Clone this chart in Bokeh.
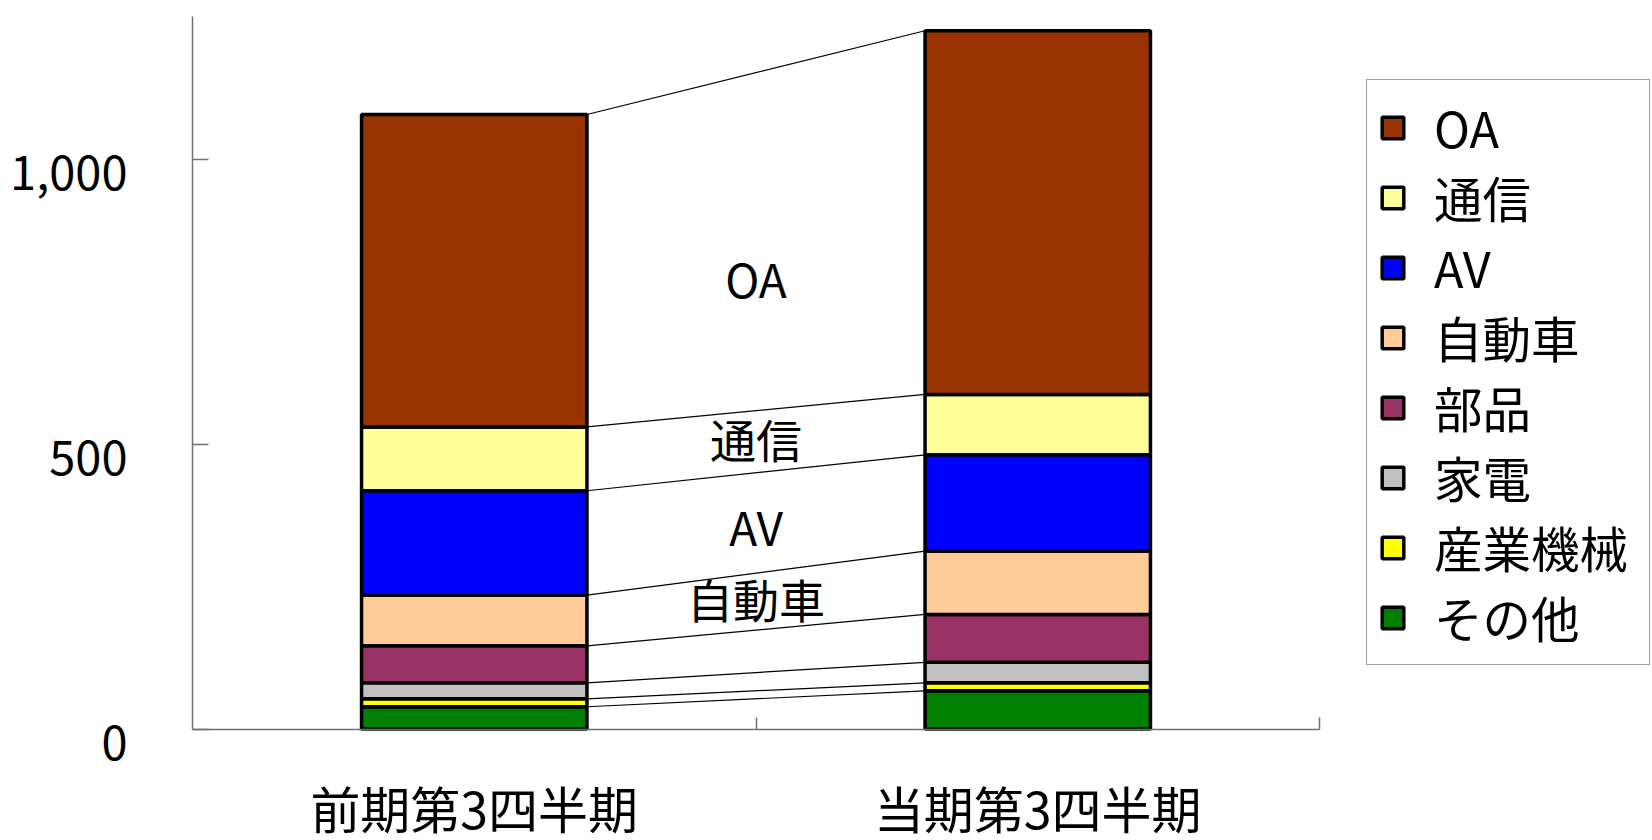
from bokeh.plotting import figure
from bokeh.models import (Range1d, FixedTicker, NumeralTickFormatter, Legend,
                          LegendItem, ColumnDataSource, LinearAxis)
from bokeh.embed import file_html
from bokeh.resources import INLINE
from bokeh.core.properties import value

# ---- data (bottom -> top of stack) ----
periods = ["前期第3四半期", "当期第3四半期"]
segments = ["その他", "産業機械", "家電", "部品", "自動車", "AV", "通信", "OA"]
other = [39, 67]
industrial = [14, 14]
appliances = [28, 36]
parts = [65, 84]
automotive = [89, 111]
av = [183, 169]
telecom = [112, 106]
oa = [548, 638]
colors = ["#008000", "#FFFF00", "#C0C0C0", "#993366", "#FFCC99", "#0000FF", "#FFFF99", "#993300"]
y_ticks = [0, 500, 1000]
Y_MAX = 1250

# labels between the bars (text + vertical placement)
mid_labels = ["OA", "通信", "AV", "自動車"]
mid_label_y = [792, 510, 357, 229]

# ---- layout constants (pixels) ----
W, H = 1652, 840
FRAME_LEFT = 192
FRAME_TOP = 16
PX_PER_UNIT = 0.57          # vertical scale
PX_PER_CAT = 563.5          # horizontal width of one category
LABEL_DROP = 14             # y tick labels sit a little below their ticks
FONT = "Noto Sans CJK JP"
BAR_W = 0.4

series = [other, industrial, appliances, parts, automotive, av, telecom, oa]
xs = list(range(len(periods)))
data = {"x": xs}
for name, vals in zip(segments, series):
    data[name] = vals
source = ColumnDataSource(data)

x_start = -0.5
x_end = x_start + (W - FRAME_LEFT) / PX_PER_CAT
y_min = Y_MAX - (H - FRAME_TOP) / PX_PER_UNIT

p = figure(width=W, height=H, x_range=Range1d(x_start, x_end), y_range=Range1d(y_min, Y_MAX),
           output_backend="svg", toolbar_location=None,
           min_border_left=FRAME_LEFT, min_border_right=0, min_border_top=FRAME_TOP,
           min_border_bottom=0)
p.grid.visible = False
p.outline_line_color = None
p.background_fill_color = "white"
p.border_fill_color = "white"

# connector lines between stacks
cum = []
run = [0, 0]
for vals in series:
    run = [run[0] + vals[0], run[1] + vals[1]]
    cum.append(run)
p.segment(x0=[xs[0] + BAR_W / 2] * len(cum), x1=[xs[1] - BAR_W / 2] * len(cum),
          y0=[c[0] for c in cum], y1=[c[1] for c in cum],
          line_color="black", line_width=1.2)

renderers = p.vbar_stack(segments, x="x", width=BAR_W, source=source,
                         fill_color=colors, line_color="black", line_width=3.5)

p.text(x=[(xs[0] + xs[1]) / 2] * len(mid_labels), y=mid_label_y, text=mid_labels,
       text_align="center", text_baseline="middle", text_font=value(FONT),
       text_font_size="46px", text_color="black")

# x axis at y = 0: category names at centres, small ticks at the boundaries
xa = p.xaxis[0]
xa.fixed_location = 0
xa.bounds = (x_start, x_start + len(periods))
xa.ticker = FixedTicker(ticks=xs, minor_ticks=[x + 0.5 for x in xs])
xa.major_label_overrides = {i: lab for i, lab in zip(xs, periods)}
xa.major_label_text_font = FONT
xa.major_label_text_font_size = "50px"
xa.major_label_text_color = "black"
xa.major_label_standoff = 42
xa.major_tick_in = 0
xa.major_tick_out = 0
xa.minor_tick_in = 12
xa.minor_tick_out = 0
xa.minor_tick_line_color = "#707070"
xa.minor_tick_line_width = 1.5
xa.axis_line_color = "#707070"
xa.axis_line_width = 1.5

# y axis: line + inward ticks
ya = p.yaxis[0]
ya.bounds = (0, Y_MAX)
ya.ticker = FixedTicker(ticks=y_ticks, minor_ticks=[])
ya.major_label_overrides = {t: "" for t in y_ticks}
ya.major_label_text_font_size = "0px"
ya.major_label_standoff = 0
ya.major_tick_in = 16
ya.major_tick_out = 0
ya.major_tick_line_color = "#707070"
ya.major_tick_line_width = 1.5
ya.axis_line_color = "#707070"
ya.axis_line_width = 1.5

# y tick labels (slightly below their ticks, as in the original)
shift = LABEL_DROP / PX_PER_UNIT
p.extra_y_ranges = {"lab": Range1d(y_min + shift, Y_MAX + shift)}
yl = LinearAxis(y_range_name="lab", ticker=FixedTicker(ticks=y_ticks, minor_ticks=[]),
                formatter=NumeralTickFormatter(format="0,0"))
yl.axis_line_color = None
yl.major_tick_line_color = None
yl.minor_tick_line_color = None
yl.major_tick_in = 0
yl.major_tick_out = 0
yl.major_label_text_font = FONT
yl.major_label_text_font_size = "47px"
yl.major_label_text_color = "black"
yl.major_label_standoff = 65
p.add_layout(yl, "left")

items = [LegendItem(label=name, renderers=[r]) for name, r in zip(segments, renderers)][::-1]
legend = Legend(items=items, location=(1366 - FRAME_LEFT, 175), margin=0, padding=12, spacing=0,
                glyph_width=27, glyph_height=27, label_standoff=28, label_width=203,
                label_text_font=FONT, label_text_font_size="48.5px", label_height=40,
                label_text_color="black",
                border_line_color="#404040", border_line_width=1.5,
                background_fill_color="white", background_fill_alpha=1.0)
p.add_layout(legend)

open("out.html", "w").write(file_html(p, INLINE))
